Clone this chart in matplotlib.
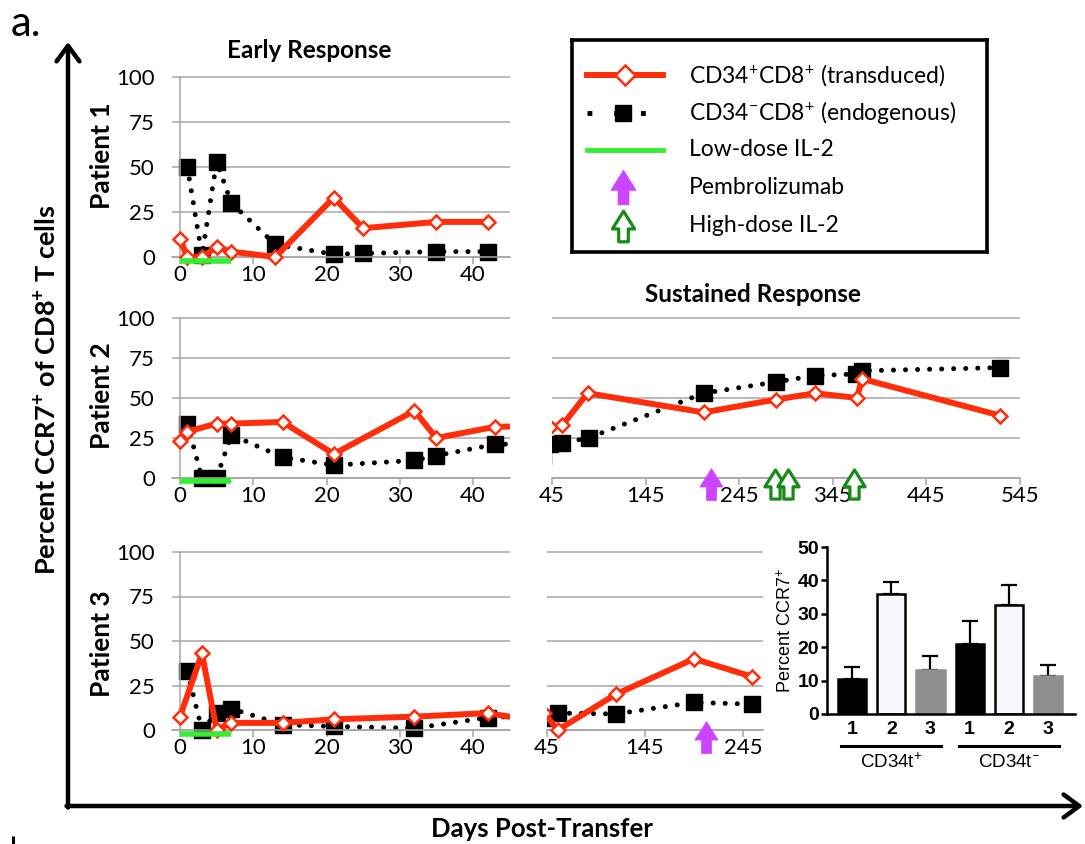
import matplotlib.pyplot as plt
from matplotlib.path import Path

plt.rcParams['font.family'] = ['Lato', 'DejaVu Sans']
plt.rcParams['mathtext.fontset'] = 'custom'
plt.rcParams['mathtext.rm'] = 'Lato'
plt.rcParams['mathtext.bf'] = 'Lato:bold'
plt.rcParams['mathtext.it'] = 'Lato:italic'

# ---- data ----
# Patient 1 (early response only)
p1_days_pos = [0, 1, 3, 5, 7, 13, 21, 25, 35, 42]
p1_pos = [10, 0, 0, 5.5, 3, 0, 33, 16, 19.5, 19.5]
p1_days_neg = [1, 3, 5, 7, 13, 21, 25, 35, 42]
p1_neg = [50, 1, 53, 30, 7, 1.5, 2, 3, 3]

# Patient 2 (early + sustained)
p2_days_pos = [0, 1, 5, 7, 14, 21, 32, 35, 43, 56, 83, 207, 284, 326, 371, 376, 524]
p2_pos = [23, 29, 34, 34, 35, 15, 42, 25, 32, 33, 53, 41, 49, 53, 50, 62, 39]
p2_days_neg = [1, 3, 5, 7, 14, 21, 32, 35, 43, 56, 84, 207, 284, 326, 370, 376, 524]
p2_neg = [34, 0, 0, 27, 13, 8, 11, 14, 21, 22, 25, 53, 60, 64, 65, 67, 69]
p2_pembro = [215]
p2_high_il2 = [283, 297, 368]

# Patient 3 (early + sustained)
p3_days_pos = [0, 3, 5, 7, 14, 21, 32, 42, 56, 115, 195, 254]
p3_pos = [7.5, 43, 0, 4, 4, 6, 7.5, 9.5, 0, 20, 40, 30]
p3_days_neg = [1, 3, 5, 7, 14, 21, 32, 42, 56, 115, 195, 254]
p3_neg = [33, 0, 9.5, 12, 3, 2, 1, 7, 9.5, 9, 15.5, 14.5]
p3_pembro = [207]

# low-dose IL-2 window (all patients)
low_il2_days = [0, 7]

# inset bar chart
bar_labels = ['1', '2', '3', '1', '2', '3']
bar_means = [10.5, 35.8, 13.2, 21.0, 32.6, 11.5]
bar_upper = [14.2, 39.5, 17.5, 27.8, 38.6, 14.6]
bar_groups = [r'CD34t$^{+}$', r'CD34t$^{-}$']

# ---- styling ----
RED = '#ff2d0a'
GRID = '#a6a6a6'
LIME = '#33ee33'
MAGENTA = '#cc44ff'
DKGREEN = '#168a16'
W, H = 1085, 844
FS_TICK = 16
FS_LEG = 16.5
ARIAL = 'Liberation Sans'

# up-pointing block arrow used as a marker
ARROW = Path([(0, 1), (0.726, -0.16), (0.315, -0.16), (0.315, -1),
              (-0.315, -1), (-0.315, -0.16), (-0.726, -0.16), (0, 1)], closed=True)

fig = plt.figure(figsize=(W / 100, H / 100), dpi=100)

# overlay in pixel coords for the big axis arrows and labels
ov = fig.add_axes([0, 0, 1, 1])
ov.set_xlim(0, W)
ov.set_ylim(H, 0)
ov.axis('off')


def panel_axes(xlim, x_ref, px_ref, y0_px, y100_px, ylim=(-10, 102)):
    # place an axes so that the data values land on the measured pixels
    sx = (px_ref[1] - px_ref[0]) / (x_ref[1] - x_ref[0])
    left = px_ref[0] + (xlim[0] - x_ref[0]) * sx
    right = px_ref[0] + (xlim[1] - x_ref[0]) * sx
    sy = (y0_px - y100_px) / 100.0
    bottom = y0_px - ylim[0] * sy
    top = y0_px - ylim[1] * sy
    ax = fig.add_axes([left / W, 1 - bottom / H, (right - left) / W, (bottom - top) / H])
    ax.set_xlim(xlim)
    ax.set_ylim(ylim)
    return ax


def style_panel(ax, xticks, show_y):
    ax.patch.set_visible(False)
    ax.set_yticks([0, 25, 50, 75, 100])
    ax.grid(axis='y', color=GRID, lw=1.1)
    ax.set_axisbelow(True)
    ax.set_xticks(xticks)
    ax.tick_params(axis='x', direction='out', length=5, width=1.1, color=GRID,
                   labelsize=FS_TICK, pad=0.5)
    ax.tick_params(axis='y', length=0, labelsize=FS_TICK, pad=18)
    ax.spines['top'].set_visible(False)
    ax.spines['right'].set_visible(False)
    ax.spines['bottom'].set_position(('data', 0))
    ax.spines['bottom'].set_color(GRID)
    ax.spines['bottom'].set_linewidth(1.1)
    if show_y:
        ax.spines['left'].set_position(('data', 0))
        ax.spines['left'].set_bounds(0, 100)
        ax.spines['left'].set_color(GRID)
        ax.spines['left'].set_linewidth(1.1)
    else:
        ax.spines['left'].set_visible(False)
        ax.set_yticklabels([])


def plot_series(ax, d_pos, v_pos, d_neg, v_neg):
    ax.plot(d_neg, v_neg, color='black', lw=3.6, ls=(0, (0.01, 2.4)),
            dash_capstyle='round', marker='s', ms=11, zorder=2)
    ax.plot(d_pos, v_pos, color=RED, lw=4.3, marker='D', ms=6.8,
            mfc='white', mec=RED, mew=1.8, zorder=3)


def plot_arrows(ax, days, hollow):
    ys = [-4] * len(days)
    if hollow:
        ax.plot(days, ys, ls='none', marker=ARROW, ms=21, mfc='white', mec=DKGREEN,
                mew=2.3, clip_on=False, zorder=6)
    else:
        ax.plot(days, ys, ls='none', marker=ARROW, ms=23, mfc=MAGENTA, mec=MAGENTA,
                mew=0.5, clip_on=False, zorder=6)


left_ticks = [0, 10, 20, 30, 40]
panels_left = [
    (257, 77, p1_days_pos, p1_pos, p1_days_neg, p1_neg),
    (478, 318, p2_days_pos, p2_pos, p2_days_neg, p2_neg),
    (730, 552, p3_days_pos, p3_pos, p3_days_neg, p3_neg),
]
for y0, y100, dp, vp, dn, vn in panels_left:
    ax = panel_axes((-1.1, 45), (0, 40), (180, 473), y0, y100)
    style_panel(ax, left_ticks, True)
    plot_series(ax, dp, vp, dn, vn)
    ax.plot(low_il2_days, [-2, -2], color=LIME, lw=4, solid_capstyle='butt', zorder=5)

# sustained response, patient 2
ax2r = panel_axes((45, 545), (45, 545), (552, 1020), 478, 318)
style_panel(ax2r, [45, 145, 245, 345, 445, 545], False)
plot_series(ax2r, p2_days_pos, p2_pos, p2_days_neg, p2_neg)
plot_arrows(ax2r, p2_pembro, False)
plot_arrows(ax2r, p2_high_il2, True)

# sustained response, patient 3
ax3r = panel_axes((45, 265), (45, 245), (547, 743), 730, 552)
style_panel(ax3r, [45, 145, 245], False)
plot_series(ax3r, p3_days_pos, p3_pos, p3_days_neg, p3_neg)
plot_arrows(ax3r, p3_pembro, False)

# ---- inset bar chart ----
bx = fig.add_axes([827 / W, 1 - 714 / H, (1075 - 827) / W, (714 - 547) / H])
xpos = list(range(len(bar_means)))
errs = [u - m for u, m in zip(bar_upper, bar_means)]
fills = ['black', '#f6f6fc', '#8e8e8e'] * 2
edges = ['black', 'black', '#8e8e8e'] * 2
bx.bar(xpos, bar_means, width=0.72, color=fills, edgecolor=edges, linewidth=1.8, zorder=2)
bx.errorbar(xpos, bar_means, yerr=[[0] * len(errs), errs], fmt='none', ecolor='black',
            elinewidth=1.6, capsize=6, capthick=1.6, zorder=1)
bx.set_xlim(-0.64, 5.69)
bx.set_ylim(0, 50)
bx.set_yticks([0, 10, 20, 30, 40, 50])
bx.set_xticks(xpos)
bx.set_xticklabels(bar_labels)
for s in ['top', 'right']:
    bx.spines[s].set_visible(False)
for s in ['left', 'bottom']:
    bx.spines[s].set_linewidth(1.8)
bx.tick_params(axis='y', length=4.5, width=1.8, pad=1)
bx.tick_params(axis='x', length=0, pad=5)
for lab in bx.get_xticklabels() + bx.get_yticklabels():
    lab.set_family(ARIAL)
    lab.set_fontweight('bold')
    lab.set_fontsize(14)
bx.set_ylabel(r'Percent CCR7$^{+}$', family=ARIAL, fontsize=13, labelpad=2)
trans = bx.get_xaxis_transform()
for i, g in enumerate(bar_groups):
    c = 1 + 3 * i
    bx.plot([c - 1.27, c + 1.27], [-0.19, -0.19], color='black', lw=2.2,
            transform=trans, clip_on=False)
    bx.text(c, -0.29, g, transform=trans, ha='center', va='center',
            family=ARIAL, fontsize=13.5)

# ---- legend box ----
lg = fig.add_axes([572 / W, 1 - 252 / H, (987 - 572) / W, (252 - 40) / H])
lg.set_xlim(572, 987)
lg.set_ylim(252, 40)
lg.set_xticks([])
lg.set_yticks([])
for s in lg.spines.values():
    s.set_linewidth(2.6)
rows = [75, 113, 150, 187, 226]
hx = [587, 663]
lg.plot(hx, [rows[0]] * 2, color=RED, lw=4.3)
lg.plot([625], [rows[0]], marker='D', ms=10, mfc='white', mec=RED, mew=1.8)
lg.plot(hx, [rows[1]] * 2, color='black', lw=3.5, ls=(0, (1, 4.5)))
lg.plot([623], [rows[1]], marker='s', ms=12, color='black')
lg.plot(hx, [rows[2]] * 2, color=LIME, lw=3.5)
lg.plot([623], [rows[3]], marker=ARROW, ms=25, mfc=MAGENTA, mec=MAGENTA, mew=0.5)
lg.plot([623], [rows[4]], marker=ARROW, ms=22, mfc='white', mec=DKGREEN, mew=2.3)
leg_text = [r'CD34$^{+}$CD8$^{+}$ (transduced)', r'CD34$^{-}$CD8$^{+}$ (endogenous)',
            'Low-dose IL-2', 'Pembrolizumab', 'High-dose IL-2']
for y, t in zip(rows, leg_text):
    lg.text(689, y, t, fontsize=FS_LEG, va='center', ha='left')

# ---- big axis arrows and labels ----
ov.annotate('', xy=(68, 42), xytext=(68, 807.5),
            arrowprops=dict(arrowstyle='->,head_length=0.45,head_width=0.33', lw=3.2,
                            color='black', shrinkA=0, shrinkB=0, mutation_scale=25))
ov.annotate('', xy=(1083, 806), xytext=(66.5, 806),
            arrowprops=dict(arrowstyle='->,head_length=0.45,head_width=0.33', lw=3.2,
                            color='black', shrinkA=0, shrinkB=0, mutation_scale=25))
ov.text(47, 390, r'Percent CCR7$^{\mathbf{+}}$ of CD8$^{\mathbf{+}}$ T cells', rotation=90,
        fontsize=19.5, fontweight='bold', ha='center', va='center')
ov.text(542, 829, 'Days Post-Transfer', fontsize=18.5, fontweight='bold', ha='center', va='center')
for y, t in zip([156, 396, 644], ['Patient 1', 'Patient 2', 'Patient 3']):
    ov.text(102, y, t, rotation=90, fontsize=19, fontweight='bold', ha='center', va='center')
ov.text(309, 51, 'Early Response', fontsize=17.5, fontweight='bold', ha='center', va='center')
ov.text(753, 295, 'Sustained Response', fontsize=17.5, fontweight='bold', ha='center', va='center')
ov.text(11, 36, 'a.', fontsize=30, ha='left', va='baseline')
# top of the next panel's letter, cut off by the figure edge
ov.plot([13, 13], [836, 844], color='black', lw=2.2, solid_capstyle='butt')

fig.savefig('out.png', dpi=100)
